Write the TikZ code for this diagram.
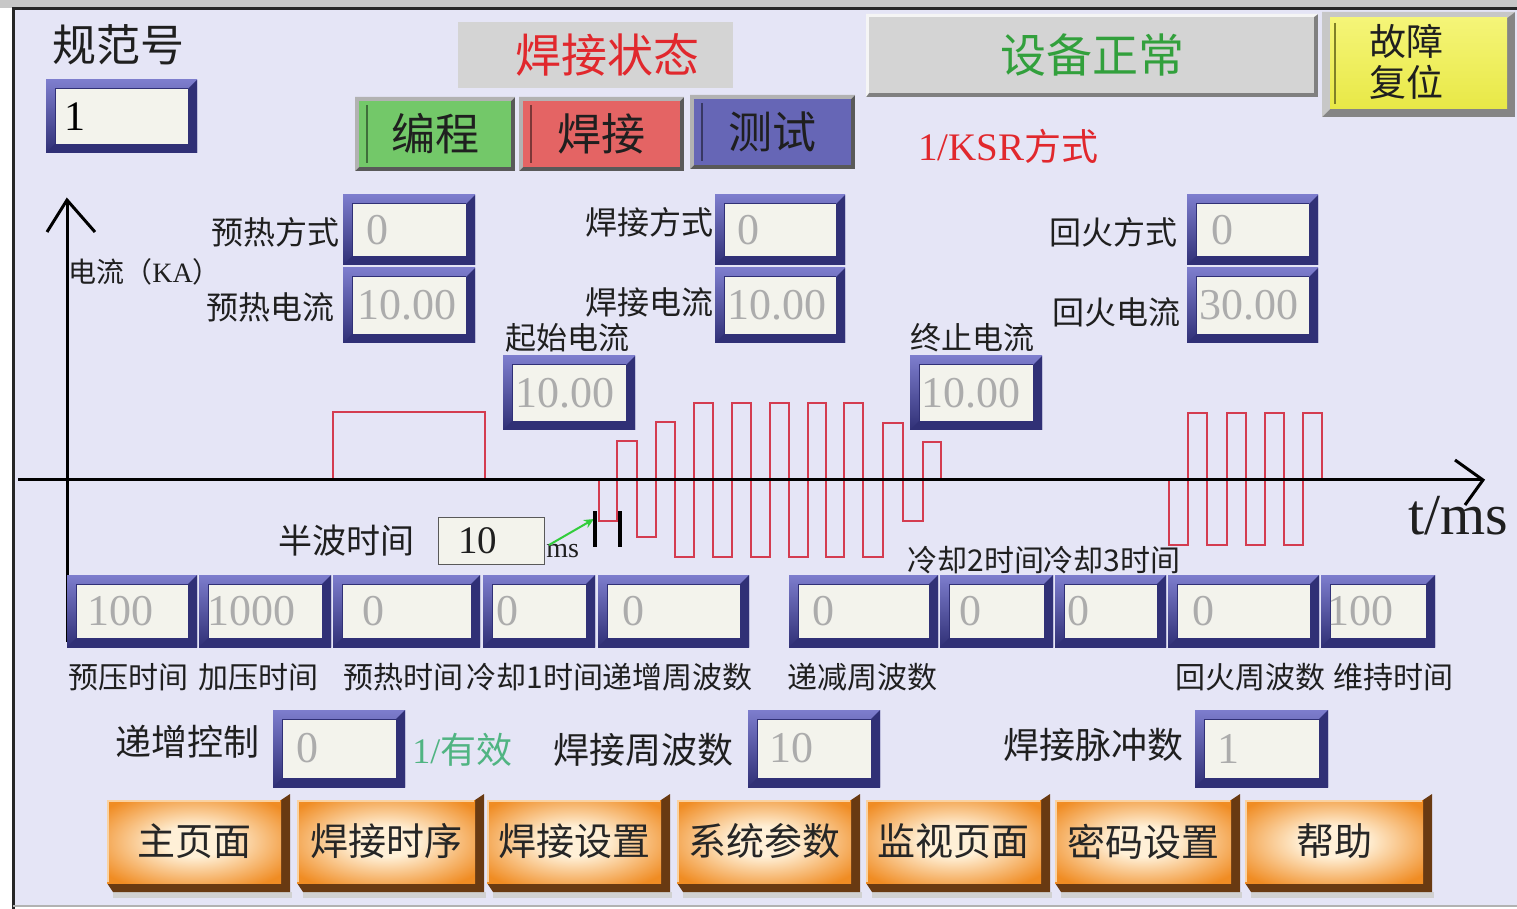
\documentclass[tikz,border=0pt]{standalone}
\usepackage{fontspec}
\setmainfont{Liberation Serif}
\newfontfamily\cjk{Noto Sans CJK SC}
\newfontfamily\lat{Liberation Serif}
\usetikzlibrary{arrows.meta}
\newcommand{\fsz}[1]{\fontsize{#1pt}{#1pt}\selectfont}
\definecolor{bg}{RGB}{229,229,246}
\definecolor{fldA}{RGB}{125,125,205}
\definecolor{fldB}{RGB}{48,48,118}
\definecolor{fldin}{RGB}{243,243,236}
\definecolor{valgray}{RGB}{172,172,172}
\definecolor{wave}{RGB}{212,60,80}
\definecolor{orgA}{RGB}{255,240,215}
\definecolor{orgB}{RGB}{240,140,35}
\definecolor{obrown}{RGB}{105,58,18}
\definecolor{stgray}{RGB}{212,212,212}
\definecolor{redtxt}{RGB}{225,40,45}
\definecolor{grntxt}{RGB}{50,160,60}
\definecolor{tealtxt}{RGB}{80,180,130}
\definecolor{mgreen}{RGB}{115,200,105}
\definecolor{mred}{RGB}{228,100,100}
\definecolor{mblue}{RGB}{102,102,182}
\definecolor{ylA}{RGB}{245,245,120}
\definecolor{ylB}{RGB}{232,232,70}
\definecolor{garrow}{RGB}{50,205,60}
\pgfdeclareradialshading{obshade}{\pgfpoint{0bp}{0bp}}{color(0bp)=(orgA); color(9bp)=(orgA); color(32bp)=(orgB); color(50bp)=(orgB)}

% input field: x1 y1 x2 y2 name textx value
\newcommand{\fld}[7]{%
  \shade[top color=fldA, bottom color=fldB] (#1,#2) rectangle (#3,#4);
  \fill[fldB] (#3,#2) -- (#3,#4) -- (#1,#4) -- (#1+9,#4-9) -- (#3-9,#4-9) -- (#3-9,#2+9) -- cycle;
  \fill[fldin] (#1+9,#2+9) rectangle (#3-9,#4-9);
  \draw[fldB, line width=0.5pt] (#1+9,#4-9) -- (#1+9,#2+9) -- (#3-9,#2+9);
  \node[val] (#5) at (#6,{(#2+#4)/2}) {#7};
}
% orange button: x1 y1 x2 y2 name text
\newcommand{\obtn}[6]{%
  \fill[black!18] (#1+6,#4) rectangle (#3+2,#4+6);
  \fill[obrown] (#3-9,#2) -- (#3,#2-6) -- (#3,#4) -- (#1+6,#4) -- (#1,#4-9) -- (#3-9,#4-9) -- cycle;
  \shade[shading=obshade] (#1,#2) rectangle (#3-9,#4-9);
  \draw[orgA!70!orgB, line width=0.8pt] (#1+1,#4-10) -- (#1+1,#2+1) -- (#3-10,#2+1);
  \node[btxt] (#5) at ({(#1+#3-9)/2},{(#2+#4-9)/2}) {#6};
}
% mode button: x1 y1 x2 y2 colour name text
\newcommand{\mbtn}[7]{%
  \fill[black!65] (#1,#2) rectangle (#3,#4);
  \fill[black!30] (#1,#2) -- (#3,#2) -- (#3-4,#2+4) -- (#1+4,#2+4) -- (#1+4,#4-4) -- (#1,#4) -- cycle;
  \fill[#5] (#1+4,#2+4) rectangle (#3-4,#4-4);
  \draw[#5!55!black, line width=0.8pt] (#1+12,#2+8) -- (#1+12,#4-8);
  \node[lab, font=\cjk\fsz{22}] (#6) at ({(#1+#3)/2},{(#2+#4)/2}) {#7};
}

\begin{document}
\begin{tikzpicture}[x=0.5pt,y=-0.5pt,
  lab/.style={inner sep=0pt, text=black!88},
  val/.style={inner sep=0pt, anchor=west, font=\lat\fsz{22}, text=valgray},
  btxt/.style={inner sep=0pt, font=\cjk\fsz{19}, text=black!85},
  clab/.style={lab, font=\cjk\fsz{16}},
  rlab/.style={lab, anchor=west, font=\cjk\fsz{15}},
  wavel/.style={draw=wave, line width=0.8pt, line join=miter},
  axisl/.style={draw=black, line width=1.5pt},
]
\useasboundingbox (0,0) rectangle (1517,909);
% frame and background
\fill[white] (0,0) rectangle (1517,909);
\fill[black!22] (0,0) rectangle (1517,8);
\fill[bg] (13,9) rectangle (1517,905);
\draw[black!85, line width=1.5pt] (13,909) -- (13,9) -- (1517,9);
\draw[black!30, line width=1pt] (13,905.5) -- (1517,905.5);

% header
\node[lab, font=\cjk\fsz{22}] (specLbl) at (119,45) {规范号};
\fld{46}{80}{197}{153}{specVal}{64}{\color{black}\fsz{21}1}

\fill[stgray] (458,22) rectangle (733,88);
\node[lab, text=redtxt, font=\cjk\fsz{23}] (weldState) at (607,55) {焊接状态};

\fill[black!50] (866,14) rectangle (1318,97);
\fill[white!92!gray] (866,14) -- (1318,14) -- (1314,17) -- (869,17) -- (869,93) -- (866,97) -- cycle;
\fill[stgray] (869,17) rectangle (1314,93);
\node[lab, text=grntxt, font=\cjk\fsz{23}] (devState) at (1092,55) {设备正常};

\fill[black!48] (1322,12) rectangle (1515,117);
\fill[black!22] (1322,12) -- (1515,12) -- (1507,18) -- (1330,18) -- (1330,109) -- (1322,117) -- cycle;
\shade[top color=ylA, bottom color=ylB] (1330,18) rectangle (1507,109);
\draw[ylB!55!black, line width=0.6pt] (1335,23) -- (1335,104);
\node[lab, font=\cjk\fontsize{18.5pt}{20.5pt}\selectfont, align=center] (reset) at (1406,62) {故障\\复位};

\mbtn{355}{97}{515}{171}{mgreen}{bProg}{编程}
\mbtn{519}{97}{684}{171}{mred}{bWeld}{焊接}
\mbtn{690}{95}{855}{169}{mblue}{bTest}{测试}

\node[lab, anchor=west, text=redtxt] (ksr) at (918,146) {\lat\fsz{19.5}1/KSR\cjk\fsz{18.5}方式};

% waveforms
\draw[wavel] (333,480) -- (333,412) -- (485,412) -- (485,480);
\draw[wavel] (599,480) -- (599,521) -- (617,521) -- (617,441) -- (637,441) -- (637,537)
  -- (656,537) -- (656,422) -- (675,422) -- (675,557) -- (694,557) -- (694,403)
  -- (713,403) -- (713,557) -- (732,557) -- (732,403) -- (751,403) -- (751,557)
  -- (770,557) -- (770,403) -- (789,403) -- (789,557) -- (808,557) -- (808,403)
  -- (826,403) -- (826,557) -- (844,557) -- (844,403) -- (863,403) -- (863,557)
  -- (883,557) -- (883,423) -- (903,423) -- (903,521) -- (923,521) -- (923,442)
  -- (941,442) -- (941,480);
\draw[wavel] (1169,480) -- (1169,545) -- (1188,545) -- (1188,413) -- (1207,413) -- (1207,545)
  -- (1227,545) -- (1227,413) -- (1246,413) -- (1246,545) -- (1265,545) -- (1265,413)
  -- (1284,413) -- (1284,545) -- (1303,545) -- (1303,413) -- (1322,413) -- (1322,480);

% axes
\coordinate (yBot) at (67,642);
\coordinate (yTop) at (67,200);
\coordinate (xL) at (18,480);
\coordinate (xR) at (1483,480);
\draw[axisl] (yBot) -- (yTop);
\draw[axisl] (47,232) -- (yTop) -- (95,232);
\draw[axisl] (xL) -- (xR);
\draw[axisl] (1455,460) -- (xR) -- (1465,505);
\node[lab, anchor=west, font=\lat\fsz{29}] (tms) at (1408,516) {t/ms};
\node[lab, anchor=west, font=\cjk\fsz{14}] (curLbl) at (68,272) {电流（{\lat KA}）};

% upper parameter fields
\node[clab, anchor=east] (lPreMode) at (340,232) {预热方式};
\fld{343}{195}{475}{265}{vPreMode}{366}{0}
\node[clab, anchor=east] (lPreCur) at (335,307) {预热电流};
\fld{343}{268}{475}{343}{vPreCur}{357}{10.00}
\node[clab, anchor=east] (lWeldMode) at (714,222) {焊接方式};
\fld{715}{195}{845}{265}{vWeldMode}{737}{0}
\node[clab, anchor=east] (lWeldCur) at (714,302) {焊接电流};
\fld{715}{268}{845}{343}{vWeldCur}{727}{10.00}
\node[clab, anchor=east] (lTempMode) at (1178,232) {回火方式};
\fld{1187}{195}{1318}{265}{vTempMode}{1211}{0}
\node[clab, anchor=east] (lTempCur) at (1181,312) {回火电流};
\fld{1187}{268}{1318}{343}{vTempCur}{1199}{30.00}
\node[lab, anchor=west, font=\cjk\fsz{15.5}] (lStartCur) at (505,338) {起始电流};
\fld{503}{356}{635}{430}{vStartCur}{515}{10.00}
\node[lab, anchor=west, font=\cjk\fsz{15.5}] (lEndCur) at (910,338) {终止电流};
\fld{910}{356}{1042}{430}{vEndCur}{921}{10.00}

% half-wave time
\node[lab, anchor=east, font=\cjk\fsz{17}] (lHalf) at (415,541) {半波时间};
\node[draw=black!65, fill=fldin, minimum width=53pt, minimum height=23.5pt, inner sep=0pt] (hwBox) at (491,540.5) {};
\node[lab, anchor=west, font=\lat\fsz{19.5}] (hwVal) at (458,541) {10};
\node[lab, anchor=west, font=\lat\fsz{14}] (hwUnit) at (546,551) {ms};
\coordinate (gA) at (549,545);
\coordinate (gB) at (594,519);
\draw[garrow, line width=1pt, -{Stealth[length=5pt,width=4.5pt]}] (gA) -- (gB);
\draw[line width=1.6pt] (595,511) -- (595,547) (620,511) -- (620,547);

% time row
\node[rlab] (lCool2) at (907,560) {冷却2时间};
\node[rlab] (lCool3) at (1043,560) {冷却3时间};
\fld{67}{575}{197}{647}{vSqz}{87}{100}
\fld{199}{575}{331}{647}{vPress}{207}{1000}
\fld{333}{575}{480}{647}{vPreT}{362}{0}
\fld{483}{575}{595}{647}{vCool1}{496}{0}
\fld{598}{575}{749}{647}{vUp}{622}{0}
\fld{789}{575}{938}{647}{vDown}{812}{0}
\fld{940}{575}{1053}{647}{vCool2}{959}{0}
\fld{1055}{575}{1166}{647}{vCool3}{1067}{0}
\fld{1168}{575}{1319}{647}{vTemp}{1192}{0}
\fld{1321}{575}{1435}{647}{vHold}{1327}{100}
\node[rlab] (lSqz) at (68,677) {预压时间};
\node[rlab] (lPress) at (198,677) {加压时间};
\node[rlab] (lPreT) at (343,677) {预热时间};
\node[rlab] (lCool1) at (466,677) {冷却1时间};
\node[rlab] (lUp) at (602,677) {递增周波数};
\node[rlab] (lDown) at (787,677) {递减周波数};
\node[rlab] (lTemp) at (1175,677) {回火周波数};
\node[rlab] (lHold) at (1333,677) {维持时间};

% control row
\node[lab, anchor=west, font=\cjk\fsz{18}] (lInc) at (115,742) {递增控制};
\fld{273}{710}{405}{787}{vInc}{296}{0}
\node[lab, anchor=west, text=tealtxt] (lValid) at (412,750) {\lat\fsz{18}1/\cjk 有效};
\node[lab, anchor=west, font=\cjk\fsz{18}] (lWeldCyc) at (553,750) {焊接周波数};
\fld{748}{710}{880}{787}{vWeldCyc}{769}{10}
\node[lab, anchor=west, font=\cjk\fsz{18}] (lPulse) at (1003,745) {焊接脉冲数};
\fld{1195}{710}{1328}{787}{vPulse}{1217}{1}

% bottom buttons
\obtn{107}{800}{290}{892}{bMain}{主页面}
\obtn{297}{800}{484}{892}{bSeq}{焊接时序}
\obtn{487}{800}{670}{892}{bSet}{焊接设置}
\obtn{677}{800}{860}{892}{bSys}{系统参数}
\obtn{866}{800}{1050}{892}{bMon}{监视页面}
\obtn{1055}{800}{1240}{892}{bPwd}{密码设置}
\obtn{1245}{800}{1432}{892}{bHelp}{帮助}
\end{tikzpicture}
\end{document}
